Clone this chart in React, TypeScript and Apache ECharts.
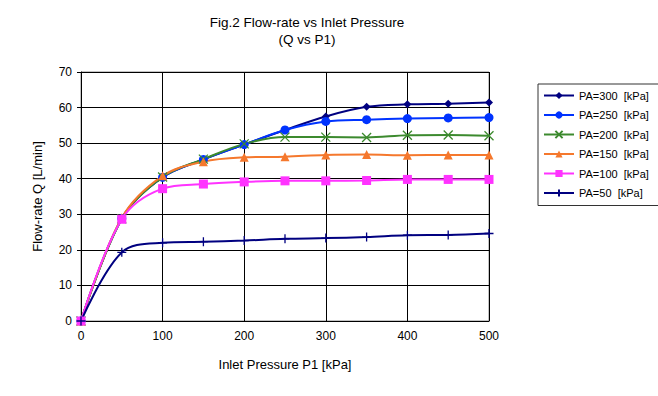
import React, { useEffect, useRef } from "react";
import * as echarts from "echarts";

const pressures = [0, 50, 100, 150, 200, 250, 300, 350, 400, 450, 500];
const pa300 = [0, 28.8, 40.4, 45.4, 49.6, 53.7, 57.5, 60.2, 60.9, 61.1, 61.4];
const pa250 = [0, 28.8, 40.4, 45.4, 49.6, 53.7, 56.1, 56.6, 56.9, 57.1, 57.2];
const pa200 = [0, 28.7, 40.5, 45.5, 49.8, 51.7, 51.7, 51.6, 52.2, 52.3, 52.1];
const pa150 = [0, 29.0, 40.8, 44.8, 46.0, 46.2, 46.7, 46.8, 46.6, 46.7, 46.7];
const pa100 = [0, 28.6, 37.2, 38.5, 39.1, 39.4, 39.4, 39.5, 39.8, 39.8, 39.8];
const pa50 = [0, 19.3, 22.0, 22.3, 22.6, 23.1, 23.3, 23.6, 24.1, 24.2, 24.6];

const seriesNames = [
  "PA=300  [kPa]",
  "PA=250  [kPa]",
  "PA=200  [kPa]",
  "PA=150  [kPa]",
  "PA=100  [kPa]",
  "PA=50  [kPa]",
];
const yTicks = [0, 10, 20, 30, 40, 50, 60, 70];
const xTicks = [0, 100, 200, 300, 400, 500];

const PLUS = "path://M0,5 L10,5 M5,0 L5,10";
const CROSS = "path://M0,0 L10,10 M10,0 L0,10";

export default function App() {
  const ref = useRef<HTMLDivElement>(null);
  useEffect(() => {
    const chart = echarts.init(ref.current!, null, { renderer: "svg" });
    const font = "Liberation Sans, Arial, sans-serif";
    const mk = (
      name: string,
      data: number[],
      color: string,
      symbol: string,
      size: number,
      stroke = false
    ) => ({
      name,
      type: "line",
      smooth: 0.35,
      data: pressures.map((p, i) => [p, data[i]]),
      symbol,
      symbolSize: size,
      showSymbol: true,
      lineStyle: { color, width: 2 },
      itemStyle: stroke
        ? { color, borderColor: color, borderWidth: 1.3 }
        : { color, borderWidth: 0 },
      z: 3,
    });
    chart.setOption({
      animation: false,
      textStyle: { fontFamily: font },
      title: {
        text: "Fig.2 Flow-rate vs Inlet Pressure\n(Q vs P1)",
        left: 302,
        top: 9,
        textAlign: "center",
        textStyle: { fontSize: 13.5, fontWeight: "normal", color: "#000", lineHeight: 17, fontFamily: font },
      },
      legend: {
        orient: "vertical",
        left: 538,
        top: 84,
        itemGap: 8.5,
        itemWidth: 30,
        itemHeight: 9,
        padding: [6, 12, 7, 5],
        borderColor: "#333",
        borderWidth: 1,
        data: seriesNames,
        textStyle: { fontSize: 11, color: "#000", fontFamily: font },
      },
      grid: {
        left: 81,
        right: 169,
        top: 72,
        bottom: 75,
        show: true,
        borderColor: "#888",
        borderWidth: 1,
        backgroundColor: "transparent",
      },
      xAxis: {
        type: "value",
        min: 0,
        max: 500,
        interval: 100,
        name: "Inlet Pressure P1 [kPa]",
        nameLocation: "middle",
        nameGap: 37,
        nameTextStyle: { fontSize: 13, color: "#000" },
        axisLine: { lineStyle: { color: "#000" } },
        axisTick: { show: true, inside: true, length: 4, lineStyle: { color: "#000" } },
        axisLabel: { color: "#000", fontSize: 12, margin: 9, formatter: (v: number) => (xTicks.includes(v) ? String(v) : "") },
        splitLine: { show: true, lineStyle: { color: "#000", width: 1 } },
      },
      yAxis: {
        type: "value",
        min: 0,
        max: 70,
        interval: 10,
        name: "Flow-rate Q [L/min]",
        nameLocation: "middle",
        nameGap: 37,
        nameTextStyle: { fontSize: 13, color: "#000" },
        axisLine: { show: true, lineStyle: { color: "#000" } },
        axisTick: { show: true, length: 4, lineStyle: { color: "#000" } },
        axisLabel: { color: "#000", fontSize: 12, margin: 9, formatter: (v: number) => (yTicks.includes(v) ? String(v) : "") },
        splitLine: { show: true, lineStyle: { color: "#000", width: 1 } },
      },
      series: [
        mk(seriesNames[0], pa300, "#000080", "diamond", 8),
        mk(seriesNames[1], pa250, "#0033ff", "circle", 9),
        mk(seriesNames[2], pa200, "#3c8a2e", CROSS, 9, true),
        mk(seriesNames[3], pa150, "#f5782d", "triangle", 9),
        mk(seriesNames[4], pa100, "#ff33ff", "rect", 9),
        mk(seriesNames[5], pa50, "#000080", PLUS, 9, true),
      ],
    });
    return () => chart.dispose();
  }, []);
  return <div ref={ref} style={{ position: "absolute", left: 0, top: 0, width: 658, height: 396 }} />;
}
